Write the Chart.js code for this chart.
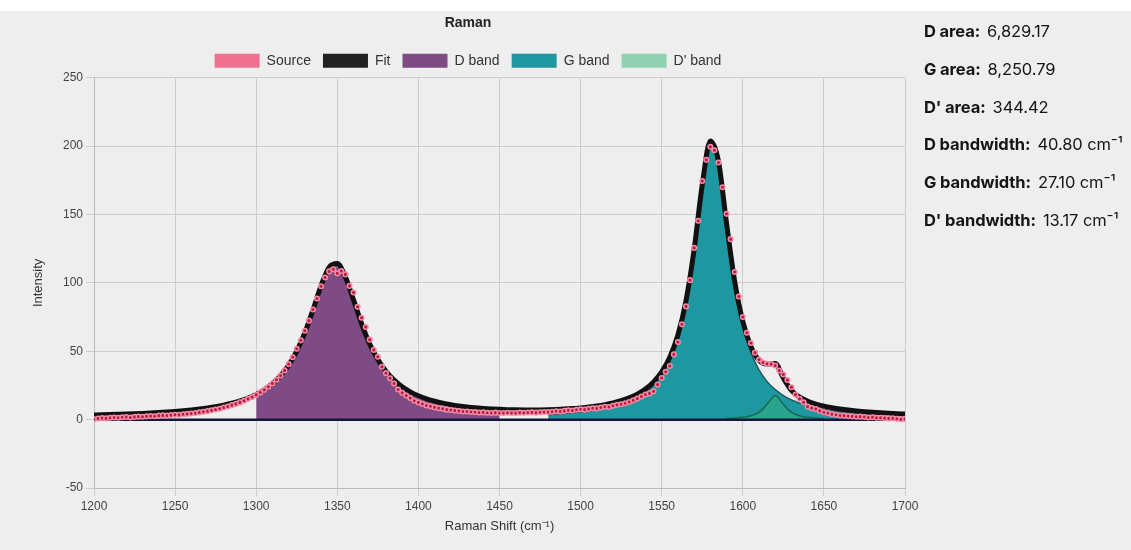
<!DOCTYPE html>
<html><head><meta charset="utf-8">
<script src="https://cdn.jsdelivr.net/npm/chart.js@4.4.1/dist/chart.umd.min.js"></script>
<style>
html,body{margin:0;padding:0;background:#fff;width:1131px;height:550px;overflow:hidden;}
#page{position:absolute;left:0;top:11px;width:1131px;height:539px;background:#eeeeee;}
#wrap{position:absolute;left:0;top:0;width:940px;height:550px;}
#stats{position:absolute;left:924px;top:13px;font-family:Inter,'Open Sans',sans-serif;font-size:16.5px;color:#151515;letter-spacing:-0.1px;}
#stats div{height:37.8px;line-height:37.8px;white-space:nowrap;}
#stats b{font-weight:700;margin-right:7px;}
</style></head><body>
<div id="page"></div>
<div id="wrap"><canvas id="c" width="940" height="550"></canvas></div>
<div id="stats"></div>
<script>
// ---- data ----
const statLabels = ["D area:", "G area:", "D' area:", "D bandwidth:", "G bandwidth:", "D' bandwidth:"];
const statValues = ["6,829.17", "8,250.79", "344.42", "40.80 cm\u207B\u00B9", "27.10 cm\u207B\u00B9", "13.17 cm\u207B\u00B9"];

const sourceShift = [
1200,1202.5,1205,1207.5,1210,1212.5,1215,1217.5,1220,1222.5,
1225,1227.5,1230,1232.5,1235,1237.5,1240,1242.5,1245,1247.5,
1250,1252.5,1255,1257.5,1260,1262.5,1265,1267.5,1270,1272.5,
1275,1277.5,1280,1282.5,1285,1287.5,1290,1292.5,1295,1297.5,
1300,1302.5,1305,1307.5,1310,1312.5,1315,1317.5,1320,1322.5,
1325,1327.5,1330,1332.5,1335,1337.5,1340,1342.5,1345,1347.5,
1350,1352.5,1355,1357.5,1360,1362.5,1365,1367.5,1370,1372.5,
1375,1377.5,1380,1382.5,1385,1387.5,1390,1392.5,1395,1397.5,
1400,1402.5,1405,1407.5,1410,1412.5,1415,1417.5,1420,1422.5,
1425,1427.5,1430,1432.5,1435,1437.5,1440,1442.5,1445,1447.5,
1450,1452.5,1455,1457.5,1460,1462.5,1465,1467.5,1470,1472.5,
1475,1477.5,1480,1482.5,1485,1487.5,1490,1492.5,1495,1497.5,
1500,1502.5,1505,1507.5,1510,1512.5,1515,1517.5,1520,1522.5,
1525,1527.5,1530,1532.5,1535,1537.5,1540,1542.5,1545,1547.5,
1550,1552.5,1555,1557.5,1560,1562.5,1565,1567.5,1570,1572.5,
1575,1577.5,1580,1582.5,1585,1587.5,1590,1592.5,1595,1597.5,
1600,1602.5,1605,1607.5,1610,1612.5,1615,1617.5,1620,1622.5,
1625,1627.5,1630,1632.5,1635,1637.5,1640,1642.5,1645,1647.5,
1650,1652.5,1655,1657.5,1660,1662.5,1665,1667.5,1670,1672.5,
1675,1677.5,1680,1682.5,1685,1687.5,1690,1692.5,1695,1697.5,
1700];
const sourceIntensity = [
0.3,0.8,1.2,0.9,1.3,1.6,1.4,1.7,1.9,1.6,
2.0,2.2,2.1,2.4,2.6,2.5,2.9,3.1,3.0,3.3,
3.6,3.5,3.9,4.2,4.5,4.9,5.3,5.7,6.2,6.8,
7.4,8.0,8.9,9.6,10.6,11.5,12.6,13.8,15.2,16.6,
18.1,19.9,21.8,24.1,26.5,29.2,32.2,36.0,40.6,45.6,
51.8,58.0,65.0,72.4,80.5,88.6,97.5,104.0,108.4,110.0,
107.0,108.7,106.2,97.8,93.0,82.5,74.5,67.8,58.5,51.0,
46.0,38.6,34.0,30.2,26.4,22.0,19.6,17.6,15.8,13.8,
12.6,11.4,10.3,9.8,9.0,8.4,7.9,7.3,7.0,6.6,
6.3,6.0,5.9,5.6,5.5,5.2,5.3,5.0,4.9,5.1,
4.8,4.9,5.0,4.8,4.9,5.1,5.0,5.2,5.3,5.1,
5.4,5.6,5.5,5.8,6.1,5.9,6.4,6.8,6.6,7.2,
7.6,7.3,7.9,8.3,8.2,8.9,9.4,9.2,10.1,10.8,
11.2,12.0,12.9,14.1,15.4,16.9,18.3,19.2,20.8,25.6,
30.5,35.0,39.2,47.7,56.8,69.7,82.8,102.0,125.6,145.4,
174.5,190.0,199.6,197.0,188.0,170.0,150.5,132.0,108.0,90.0,
75.0,63.5,56.0,49.0,44.0,41.8,40.8,40.6,39.6,35.9,
33.0,29.0,23.7,18.3,15.2,12.7,9.5,8.4,7.8,6.4,
5.4,4.8,4.0,3.6,3.0,2.9,2.6,2.4,2.1,2.2,
1.9,1.6,1.7,1.3,1.4,1.1,0.9,1.0,0.6,0.3,
0.5];

const fitShift = [
1200,1205,1210,1215,1220,1225,1230,1235,1240,1245,
1250,1255,1260,1265,1270,1275,1280,1285,1290,1295,
1300,1305,1310,1315,1320,1325,1330,1335,1340,1345,
1350,1355,1360,1365,1370,1375,1380,1385,1390,1395,
1400,1405,1410,1415,1420,1425,1430,1435,1440,1445,
1450,1455,1460,1465,1470,1475,1480,1485,1490,1495,
1500,1505,1510,1515,1520,1525,1530,1535,1540,1545,
1550,1555,1560,1565,1570,1575,1580,1585,1590,1595,
1600,1605,1610,1615,1620,1625,1630,1635,1640,1645,
1650,1655,1660,1665,1670,1675,1680,1685,1690,1695,
1700];
const fitIntensity = [
3.35,3.51,3.68,3.87,4.07,4.30,4.56,4.86,5.19,5.56,
5.99,6.48,7.07,7.75,8.54,9.48,10.63,12.0,13.7,15.81,
18.46,21.86,26.29,32.11,39.84,50.15,63.64,80.22,97.95,111.48,
114.1,104.34,87.57,70.11,55.35,43.94,35.33,28.89,24.05,20.33,
17.46,15.23,13.47,12.07,10.94,10.02,9.28,8.69,8.21,7.83,
7.54,7.32,7.17,7.09,7.08,7.12,7.25,7.44,7.70,8.07,
8.59,9.2,9.96,10.95,12.2,13.81,15.88,18.65,22.37,27.52,
34.86,45.61,61.88,86.94,124.45,171.68,203.84,189.03,143.41,101.12,
71.87,53.56,43.42,40.64,41.13,30.39,21.35,16.44,13.45,11.39,
9.86,8.69,7.75,6.99,6.35,5.82,5.37,4.99,4.65,4.36,
4.1];

const dBandShift = [1300,1305,1310,1315,1320,1325,1330,1335,1340,1345,1350,1355,1360,1365,1370,1375,1380,1385,1390,1395,1400,1405,1410,1415,1420,1425,1430,1435,1440,1445,1450];
const dBandIntensity = [16.99,20.37,24.78,30.58,38.29,48.58,62.04,78.6,96.3,109.8,112.4,102.6,85.8,68.3,53.5,42.05,33.39,26.9,22.0,18.24,15.33,13.03,11.20,9.72,8.51,7.50,6.66,5.95,5.35,4.83,4.39];

const gBandShift = [1480,1485,1490,1495,1500,1505,1510,1515,1520,1525,1530,1535,1540,1545,1550,1555,1560,1565,1570,1575,1580,1585,1590,1595,1600,1605,1610,1615,1620,1625,1630,1635,1640,1645,1650,1655,1660,1665,1670,1675,1680];
const gBandIntensity = [3.59,3.97,4.40,4.92,5.53,6.25,7.13,8.21,9.54,11.23,13.38,16.20,19.98,25.18,32.55,43.34,59.63,84.7,122.2,169.4,201.5,186.6,140.8,98.2,68.4,49.0,36.4,27.8,21.9,17.6,14.42,12.02,10.17,8.71,7.54,6.59,5.80,5.15,4.60,4.13,3.73];

const dpBandShift = [1590,1595,1600,1605,1610,1615,1620,1625,1630,1635,1640,1645,1650];
const dpBandIntensity = [0.81,1.15,1.73,2.85,5.34,11.18,17.6,11.18,5.34,2.85,1.73,1.15,0.81];

const baselineShift = [1200, 1700];
const baselineIntensity = [0, 0];

const xTicks = {min: 1200, max: 1700, step: 50};
const yTicks = {min: -50, max: 250, step: 50};

// ---- stats panel ----
const stats = document.getElementById('stats');
statLabels.forEach((l, i) => {
  const d = document.createElement('div');
  const b = document.createElement('b'); b.textContent = l;
  d.appendChild(b); d.appendChild(document.createTextNode(statValues[i]));
  stats.appendChild(d);
});

// ---- chart ----
const pts = (xs, ys) => xs.map((x, i) => ({x: x, y: ys[i]}));
const FONT = "'Liberation Sans', Arial, sans-serif";
Chart.defaults.font.family = FONT;
const baseLabels = Chart.defaults.plugins.legend.labels.generateLabels;

new Chart(document.getElementById('c'), {
  type: 'line',
  data: {datasets: [
    {label: 'Source', data: pts(sourceShift, sourceIntensity), showLine: false,
     backgroundColor: '#f07090', borderColor: '#f07090', borderWidth: 1,
     pointRadius: 2.3, pointBorderWidth: 1.5, pointBackgroundColor: '#b51f3f', pointBorderColor: '#f58aa6', order: 0},
    {label: 'Fit', data: pts(fitShift, fitIntensity), borderColor: '#111', backgroundColor: '#222', borderWidth: 5,
     pointRadius: 0, cubicInterpolationMode: 'monotone', fill: false, order: 1},
    {label: 'D band', data: pts(dBandShift, dBandIntensity), borderColor: '#7f4b85', backgroundColor: '#7f4b85', borderWidth: 1,
     pointRadius: 0, cubicInterpolationMode: 'monotone', fill: 'origin', order: 4},
    {label: 'G band', data: pts(gBandShift, gBandIntensity), borderColor: '#1d5a68', backgroundColor: '#1f97a0', borderWidth: 1.5,
     pointRadius: 0, cubicInterpolationMode: 'monotone', fill: 'origin', order: 5},
    {label: "D' band", data: pts(dpBandShift, dpBandIntensity), borderColor: 'rgba(20,100,70,0.85)', backgroundColor: 'rgba(50,180,120,0.5)', borderWidth: 1.5,
     pointRadius: 0, cubicInterpolationMode: 'monotone', fill: 'origin', order: 3},
    {label: 'baseline', data: pts(baselineShift, baselineIntensity), borderColor: '#15173a', backgroundColor: '#15173a', borderWidth: 2.5,
     pointRadius: 0, fill: false, order: 2}
  ]},
  options: {
    responsive: false, animation: false,
    layout: {padding: {left: 31, right: 35, top: 0, bottom: 12}},
    plugins: {
      title: {display: true, text: 'Raman', color: '#222', font: {size: 14, weight: 'bold'}, padding: {top: 15, bottom: 10}},
      legend: {labels: {boxWidth: 45, boxHeight: 14, padding: 12, color: '#333', font: {size: 14},
        generateLabels: (chart) => baseLabels(chart)
          .filter((it) => it.text !== 'baseline')
          .sort((a, b) => a.datasetIndex - b.datasetIndex)
          .map((it) => Object.assign(it, {lineWidth: 0, strokeStyle: it.fillStyle}))}},
      tooltip: {enabled: false}
    },
    scales: {
      x: {type: 'linear', min: xTicks.min, max: xTicks.max,
          ticks: {stepSize: xTicks.step, color: '#444', font: {size: 12}, callback: (v) => String(v)},
          grid: {color: '#cdcdcd'}, border: {color: '#bbbbbb'},
          title: {display: true, text: 'Raman Shift (cm\u207B\u00B9)', color: '#333', font: {size: 13}, padding: {top: 4, bottom: 4}},
          afterFit: (s) => { s.height = 50; }},
      y: {type: 'linear', min: yTicks.min, max: yTicks.max,
          ticks: {stepSize: yTicks.step, color: '#444', font: {size: 12}},
          grid: {color: '#cdcdcd'}, border: {color: '#bbbbbb'},
          title: {display: true, text: 'Intensity', color: '#333', font: {size: 13}, padding: {top: 0, bottom: 0}},
          afterFit: (s) => { s.width = 63; }}
    }
  }
});
</script>
</body></html>
